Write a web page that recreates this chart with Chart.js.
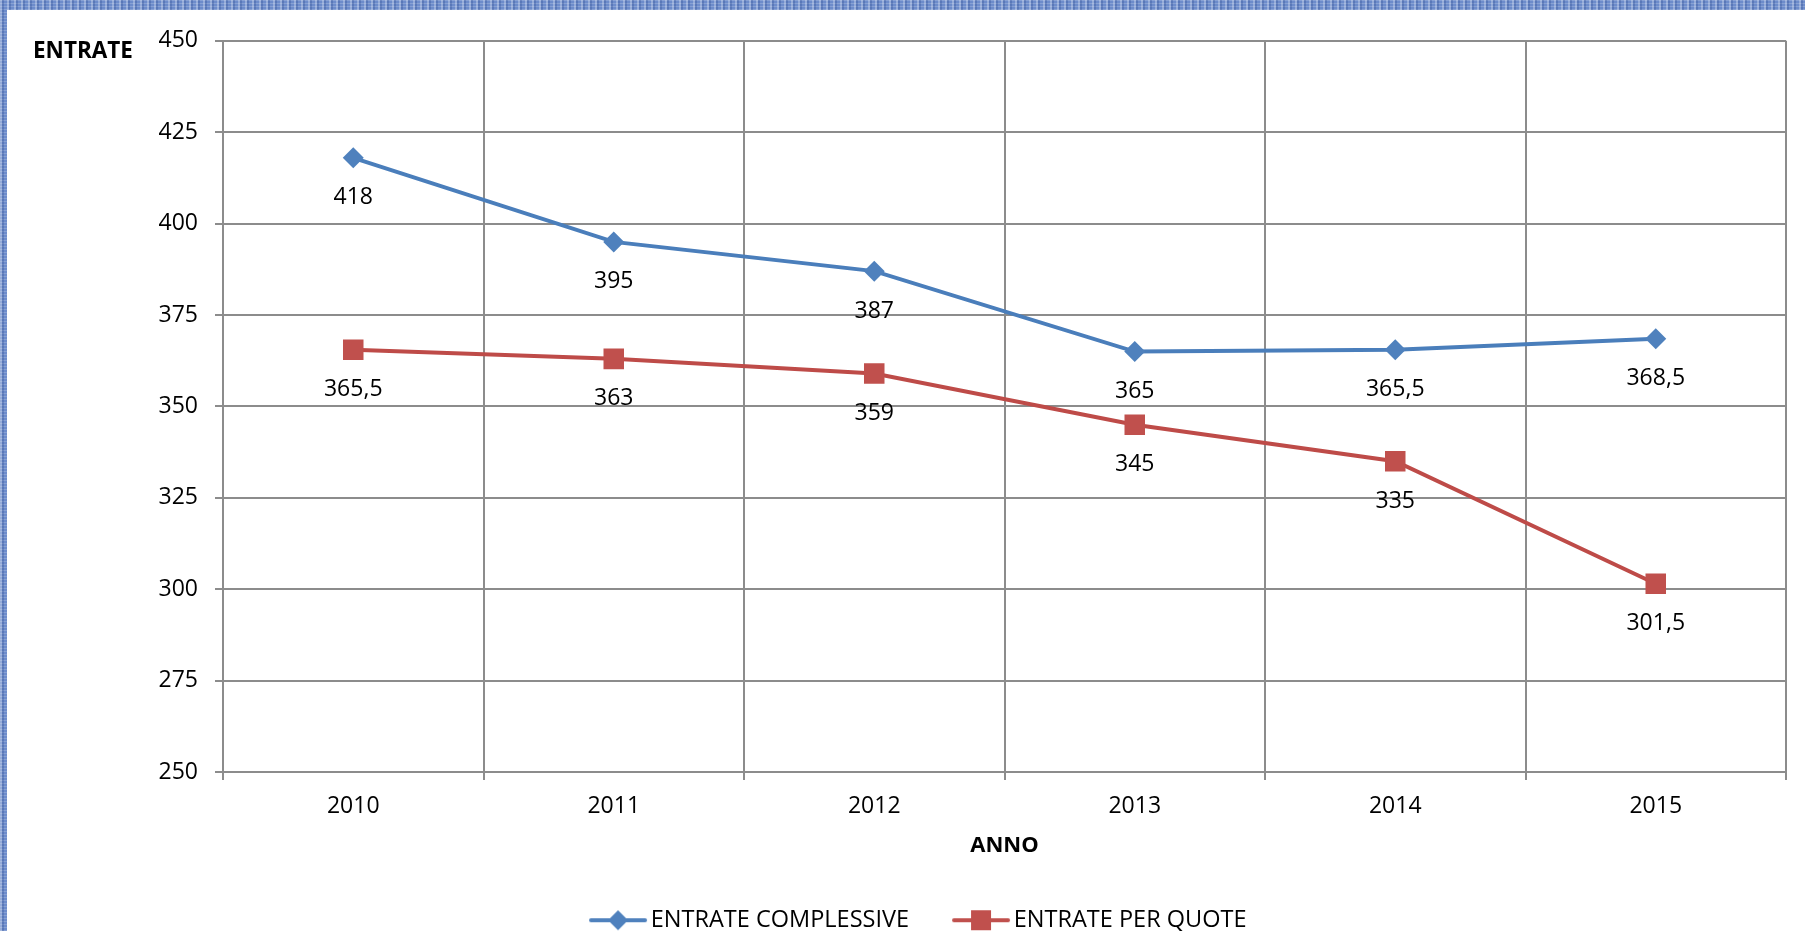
<!DOCTYPE html>
<html>
<head>
<meta charset="utf-8">
<script src="https://cdn.jsdelivr.net/npm/chart.js@4/dist/chart.umd.min.js"></script>
<style>
  html, body {
    margin: 0;
    padding: 0;
    width: 1805px;
    height: 931px;
    overflow: hidden;
    background: #fff;
  }
  .frame-top, .frame-left {
    position: absolute;
    background-color: #6d8ccb;
    background-image:
      repeating-linear-gradient(90deg, rgba(255,255,255,0.28) 0 2px, rgba(30,60,130,0.25) 2px 4px, transparent 4px 7px),
      repeating-linear-gradient(0deg, rgba(255,255,255,0.18) 0 1px, transparent 1px 3px);
  }
  .frame-top { left: 0; top: 0; width: 1805px; height: 10px; }
  .frame-left { left: 0; top: 0; width: 7px; height: 931px; }
  #wrap {
    position: absolute;
    left: 7px;
    top: 10px;
    width: 1798px;
    height: 932px;
  }
</style>
</head>
<body>
<div class="frame-top"></div>
<div class="frame-left"></div>
<div id="wrap"><canvas id="chart"></canvas></div>
<script>
const years = ['2010', '2011', '2012', '2013', '2014', '2015'];
const entrateComplessive = [418, 395, 387, 365, 365.5, 368.5];
const entratePerQuote = [365.5, 363, 359, 345, 335, 301.5];
const yTicks = [250, 275, 300, 325, 350, 375, 400, 425, 450];

const BLUE = '#4a7ebb';
const BLUE_MK = '#4f81bd';
const RED = '#be4b48';
const RED_MK = '#c0504d';
const FONT = "'Open Sans', sans-serif";

// legend swatch: line with marker in the middle, like Excel
function legendSwatch(color, marker) {
  const c = document.createElement('canvas');
  c.width = 60;
  c.height = 24;
  const g = c.getContext('2d');
  g.strokeStyle = color;
  g.lineWidth = 4;
  g.lineCap = 'round';
  g.beginPath();
  g.moveTo(3, 12);
  g.lineTo(57, 12);
  g.stroke();
  g.fillStyle = color;
  g.beginPath();
  if (marker === 'diamond') {
    g.moveTo(30, 2); g.lineTo(40, 12); g.lineTo(30, 22); g.lineTo(20, 12);
  } else {
    g.rect(20, 2, 20, 20);
  }
  g.closePath();
  g.fill();
  return c;
}
const swatches = [legendSwatch(BLUE_MK, 'diamond'), legendSwatch(RED_MK, 'square')];

const pointLabels = {
  id: 'pointLabels',
  afterDatasetsDraw(chart) {
    const ctx = chart.ctx;
    ctx.save();
    ctx.font = '23px ' + FONT;
    ctx.fillStyle = '#000';
    ctx.textAlign = 'center';
    ctx.textBaseline = 'middle';
    chart.data.datasets.forEach((ds, i) => {
      chart.getDatasetMeta(i).data.forEach((pt, j) => {
        const txt = String(ds.data[j]).replace('.', ',');
        ctx.fillText(txt, pt.x, pt.y + 40);
      });
    });
    ctx.restore();
  }
};

const yTitle = {
  id: 'yTitle',
  afterDraw(chart) {
    const ctx = chart.ctx;
    ctx.save();
    ctx.font = 'bold 22.5px ' + FONT;
    ctx.fillStyle = '#000';
    ctx.textAlign = 'left';
    ctx.textBaseline = 'middle';
    ctx.fillText('ENTRATE', 26, 42);
    ctx.restore();
  }
};

new Chart(document.getElementById('chart'), {
  type: 'line',
  data: {
    labels: years,
    datasets: [
      {
        label: 'ENTRATE COMPLESSIVE',
        data: entrateComplessive,
        borderColor: BLUE,
        backgroundColor: BLUE_MK,
        borderWidth: 4,
        pointStyle: 'rectRot',
        pointRadius: 10.5,
        pointHoverRadius: 10.5,
        pointBackgroundColor: BLUE_MK,
        pointBorderWidth: 0,
        tension: 0,
      },
      {
        label: 'ENTRATE PER QUOTE',
        data: entratePerQuote,
        borderColor: RED,
        backgroundColor: RED_MK,
        borderWidth: 4,
        pointStyle: 'rect',
        pointRadius: 14.5,
        pointHoverRadius: 14.5,
        pointBackgroundColor: RED_MK,
        pointBorderWidth: 0,
        tension: 0,
      },
    ],
  },
  options: {
    responsive: true,
    maintainAspectRatio: false,
    animation: false,
    events: [],
    layout: {
      padding: { left: 50.5, top: 29, right: 19, bottom: 0 },
    },
    scales: {
      x: {
        offset: true,
        grid: {
          offset: true,
          color: '#8c8c8c',
          lineWidth: 2,
          tickLength: 8,
        },
        border: { color: '#8c8c8c', width: 2 },
        ticks: {
          color: '#000',
          padding: 13,
          font: { family: FONT, size: 23 },
        },
        title: {
          display: true,
          text: 'ANNO',
          color: '#000',
          padding: { top: 0, bottom: -1.7 },
          font: { family: FONT, size: 22, weight: 'bold' },
        },
        afterFit(scale) {
          scale.height = 85.5;
        },
      },
      y: {
        min: 250,
        max: 450,
        afterBuildTicks(scale) {
          scale.ticks = yTicks.map(v => ({ value: v }));
        },
        grid: {
          color: '#8c8c8c',
          lineWidth: 2,
          tickLength: 8,
        },
        border: { color: '#8c8c8c', width: 2 },
        ticks: {
          color: '#000',
          padding: 17,
          font: { family: FONT, size: 23 },
        },
        afterFit(scale) {
          scale.width = 165.5;
        },
      },
    },
    plugins: {
      tooltip: { enabled: false },
      legend: {
        position: 'bottom',
        labels: {
          usePointStyle: true,
          pointStyleWidth: 42,
          padding: 51,
          color: '#000',
          font: { family: FONT, size: 23.5 },
          generateLabels(chart) {
            const items = Chart.defaults.plugins.legend.labels.generateLabels(chart);
            items.forEach((it, i) => { it.pointStyle = swatches[i]; });
            return items;
          },
        },
      },
    },
  },
  plugins: [pointLabels, yTitle],
});
</script>
</body>
</html>
